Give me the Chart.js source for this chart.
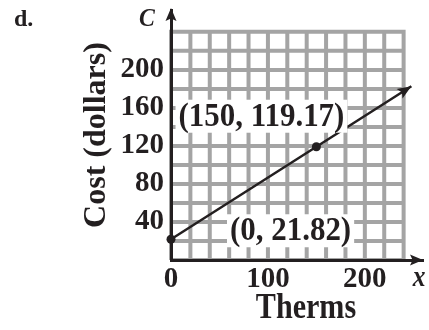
<!DOCTYPE html>
<html><head><meta charset="utf-8">
<script src="https://cdn.jsdelivr.net/npm/chart.js@4/dist/chart.umd.min.js"></script>
<style>html,body{margin:0;padding:0;background:#fff}#wrap{width:429px;height:330px;position:relative}</style>
</head><body><div id="wrap"><canvas id="c"></canvas></div>
<script>
// ---- data ----
const therms = [0, 150, 248];          // last value: end of the drawn line (arrow)
const cost = [21.82, 119.17, 182.8];
const pointLabels = ["(0, 21.82)", "(150, 119.17)"];
const xTickLabels = [0, 100, 200];
const yTickLabels = [40, 80, 120, 160, 200];
const gridValues = [0, 20, 40, 60, 80, 100, 120, 140, 160, 180, 200, 220, 240];
const xTitle = "Therms";
const yTitle = "Cost (dollars)";
const panelLetter = "d.";
const xVar = "x";
const yVar = "C";

const INK = '#231f20';
const SERIF = '"Liberation Serif", "Times New Roman", serif';

function arrowHead(ctx, x0, y0, x1, y1, len, half) {
  const a = Math.atan2(y1 - y0, x1 - x0);
  ctx.beginPath();
  ctx.moveTo(x1, y1);
  ctx.lineTo(x1 - len * Math.cos(a) + half * Math.sin(a), y1 - len * Math.sin(a) - half * Math.cos(a));
  ctx.lineTo(x1 - len * Math.cos(a) * 0.8, y1 - len * Math.sin(a) * 0.8);
  ctx.lineTo(x1 - len * Math.cos(a) - half * Math.sin(a), y1 - len * Math.sin(a) + half * Math.cos(a));
  ctx.closePath();
  ctx.fill();
}

// draw text squeezed horizontally (the reference uses a narrow bold serif)
function squeezedText(ctx, text, x, y, sx, align) {
  const w = ctx.measureText(text).width * sx;
  let left = x;
  if (align === 'center') left = x - w / 2;
  else if (align === 'right') left = x - w;
  ctx.save();
  ctx.translate(left, y);
  ctx.scale(sx, 1);
  ctx.textAlign = 'left';
  ctx.fillText(text, 0, 0);
  ctx.restore();
  return {left, w};
}

const gridPlugin = {
  id: 'grid',
  beforeDraw(chart) {
    const {ctx, scales: {x, y}} = chart;
    const gMax = gridValues[gridValues.length - 1];
    ctx.save();
    ctx.strokeStyle = '#a4a4a4';
    ctx.lineWidth = 4;
    ctx.lineCap = 'butt';
    const x0 = x.getPixelForValue(0), x1 = x.getPixelForValue(gMax);
    const y0 = y.getPixelForValue(0), y1 = y.getPixelForValue(gMax);
    ctx.beginPath();
    for (const v of gridValues) {
      const px = x.getPixelForValue(v);
      ctx.moveTo(px, y0); ctx.lineTo(px, y1 - 2);
      const py = y.getPixelForValue(v);
      ctx.moveTo(x0, py); ctx.lineTo(x1 + 2, py);
    }
    ctx.stroke();
    ctx.restore();
  }
};

const annotPlugin = {
  id: 'annot',
  afterDatasetsDraw(chart) {
    const {ctx, chartArea: ca, scales: {x, y}} = chart;
    ctx.save();
    ctx.fillStyle = INK;
    // axis arrows
    arrowHead(ctx, ca.left, ca.bottom, ca.right, ca.bottom, 13, 5.5);
    arrowHead(ctx, ca.left, ca.bottom, ca.left, ca.top - 2, 13, 5.5);
    // data line arrow
    const n = therms.length;
    arrowHead(ctx, x.getPixelForValue(therms[n - 2]), y.getPixelForValue(cost[n - 2]),
      x.getPixelForValue(therms[n - 1]), y.getPixelForValue(cost[n - 1]), 14, 5.5);

    // point labels with white background
    ctx.font = 'bold 34px ' + SERIF;
    ctx.textBaseline = 'middle';
    const offs = [{dx: 59, dy: -9, align: 'left'}, {dx: 28, dy: -31, align: 'right'}];
    const sx = 0.91;
    pointLabels.forEach((t, i) => {
      const px = x.getPixelForValue(therms[i]) + offs[i].dx;
      const py = y.getPixelForValue(cost[i]) + offs[i].dy;
      const w = ctx.measureText(t).width * sx;
      const left = offs[i].align === 'left' ? px : px - w;
      ctx.fillStyle = '#fff';
      ctx.fillRect(left - 3, py - 16, w + 6, 33);
      ctx.fillStyle = INK;
      squeezedText(ctx, t, left, py + 1, sx, 'left');
    });

    // x-axis title
    ctx.font = 'bold 35px ' + SERIF;
    squeezedText(ctx, xTitle, 306, 309, 0.86, 'center');
    // variable names
    ctx.font = 'italic bold 25px ' + SERIF;
    squeezedText(ctx, yVar, 147, 20, 0.95, 'center');
    ctx.font = 'italic bold 30px ' + SERIF;
    squeezedText(ctx, xVar, 419, 278, 0.85, 'center');
    // panel letter
    ctx.font = 'bold 24px ' + SERIF;
    squeezedText(ctx, panelLetter, 14, 20, 1, 'left');
    ctx.restore();
  }
};

new Chart(document.getElementById('c'), {
  type: 'line',
  data: {
    datasets: [{
      data: therms.map((t, i) => ({x: t, y: cost[i]})),
      borderColor: INK,
      borderWidth: 2.5,
      backgroundColor: INK,
      pointRadius: therms.map((t, i) => i < pointLabels.length ? 4.5 : 0),
      pointBorderWidth: 0,
      tension: 0,
      clip: false
    }]
  },
  options: {
    responsive: true,
    maintainAspectRatio: false,
    animation: false,
    events: [],
    layout: {padding: {left: 0, right: 6, top: 10, bottom: 0}},
    plugins: {legend: {display: false}, tooltip: {enabled: false}},
    scales: {
      x: {
        type: 'linear', min: 0, max: 260,
        afterFit(s) { s.height = 70; s.paddingLeft = 0; s.paddingRight = 0; },
        grid: {display: false, drawTicks: false},
        border: {display: true, color: INK, width: 3},
        ticks: {
          stepSize: 100, includeBounds: false, padding: 2,
          color: INK, font: {family: SERIF, weight: 'bold', size: 29},
          callback: v => xTickLabels.includes(v) ? String(v) : ''
        },
        title: {display: false}
      },
      y: {
        type: 'linear', min: 0, max: 263,
        afterFit(s) { s.width = 171; s.paddingTop = 0; s.paddingBottom = 0; },
        grid: {display: false, drawTicks: false},
        border: {display: true, color: INK, width: 3},
        ticks: {
          stepSize: 40, includeBounds: false, padding: 7,
          color: INK, font: {family: SERIF, weight: 'bold', size: 29},
          callback: v => yTickLabels.includes(v) ? String(v) : ''
        },
        title: {display: true, text: yTitle, color: INK,
          font: {family: SERIF, weight: 'bold', size: 32}, padding: {top: 78, bottom: 0}}
      }
    }
  },
  plugins: [gridPlugin, annotPlugin]
});
</script></body></html>
